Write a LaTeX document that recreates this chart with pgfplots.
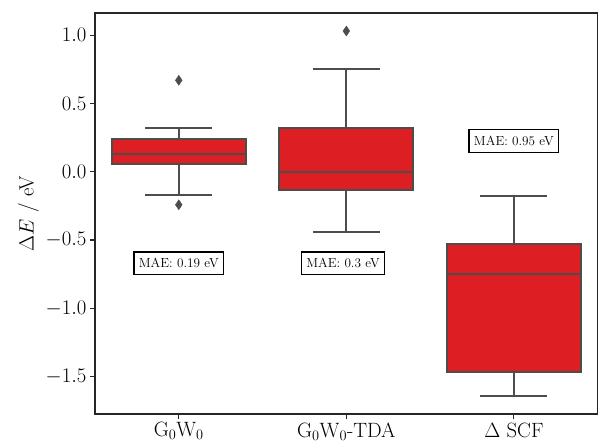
\documentclass[border=0pt]{standalone}
\usepackage{pgfplots}
\usepackage{pgfplotstable}
\pgfplotsset{compat=1.18}
\usepgfplotslibrary{statistics}
\definecolor{boxred}{RGB}{221,30,34}
\definecolor{linegray}{RGB}{77,77,77}
\definecolor{framegray}{RGB}{38,38,38}
\begin{document}
\begin{tikzpicture}
\useasboundingbox (-95pt,-28pt) rectangle (503pt,414pt);
\begin{axis}[
  scale only axis,
  width=502.7pt, height=401pt,
  xmin=-0.5, xmax=2.5,
  ymin=-1.775, ymax=1.163,
  axis line style={framegray, line width=1.2pt},
  xtick={0,1,2},
  xticklabels={{$\mathrm{G_0W_0}$},{$\mathrm{G_0W_0}$-TDA},{$\Delta$ SCF}},
  ytick={-1.5,-1,-0.5,0,0.5,1},
  yticklabels={$-1.5$,$-1.0$,$-0.5$,$0.0$,$0.5$,$1.0$},
  tick style={framegray, line width=1.1pt},
  tick align=outside,
  major tick length=5pt,
  xtick pos=bottom, ytick pos=left,
  tick label style={font=\fontsize{20.7}{24}\selectfont},
  ylabel={$\Delta E$ / eV},
  ylabel style={font=\fontsize{20.7}{24}\selectfont},
  boxplot/draw direction=y,
  boxplot/box extend=0.8,
  boxplot/whisker extend=0.4,
  boxplot/every box/.style={draw=linegray, fill=boxred, line width=2pt},
  boxplot/every whisker/.style={draw=linegray, line width=2pt},
  boxplot/every median/.style={draw=linegray, line width=2pt},
  clip=false,
]
\addplot+[boxplot prepared={draw position=0, median=0.130, upper quartile=0.237, lower quartile=0.054, upper whisker=0.318, lower whisker=-0.171},
  mark=diamond*, mark size=5pt, mark options={fill=linegray, draw=linegray, xscale=0.9}, draw=linegray]
  table[row sep=\\, y index=0] {data\\ 0.670\\ -0.242\\};
\addplot+[boxplot prepared={draw position=1, median=-0.005, upper quartile=0.318, lower quartile=-0.134, upper whisker=0.755, lower whisker=-0.440},
  mark=diamond*, mark size=5pt, mark options={fill=linegray, draw=linegray, xscale=0.9}, draw=linegray]
  table[row sep=\\, y index=0] {data\\ 1.031\\};
\addplot+[boxplot prepared={draw position=2, median=-0.749, upper quartile=-0.532, lower quartile=-1.467, upper whisker=-0.178, lower whisker=-1.641},
  mark=none, draw=linegray]
  coordinates {};
\node[draw=black, fill=white, line width=1.3pt, inner xsep=5pt, inner ysep=6.4pt, font=\fontsize{13.2}{15}\selectfont] at (axis cs:0,-0.671) {MAE: 0.19 eV};
\node[draw=black, fill=white, line width=1.3pt, inner xsep=5pt, inner ysep=6.4pt, font=\fontsize{13.2}{15}\selectfont] at (axis cs:0.98,-0.671) {MAE: 0.3 eV};
\node[draw=black, fill=white, line width=1.3pt, inner xsep=5pt, inner ysep=6.4pt, font=\fontsize{13.2}{15}\selectfont] at (axis cs:2,0.225) {MAE: 0.95 eV};
\end{axis}
\end{tikzpicture}
\end{document}
